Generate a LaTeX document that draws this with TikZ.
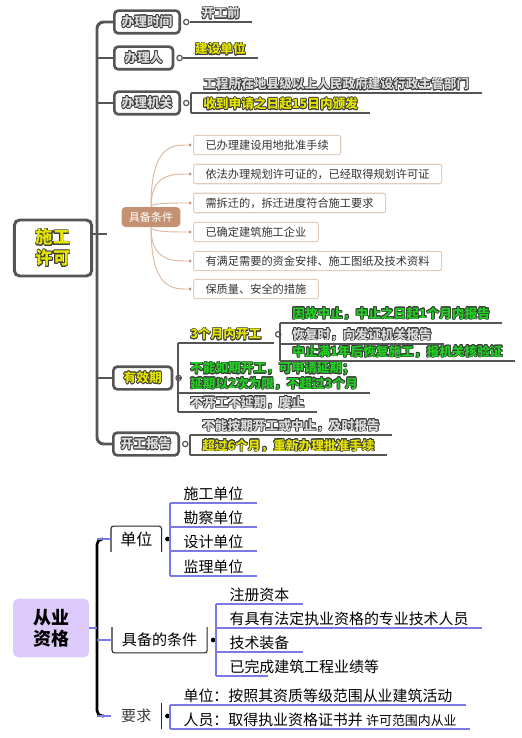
\documentclass[tikz,border=0pt]{standalone}
\usepackage{fontspec}
\setmainfont{Noto Sans CJK SC}
\usepackage[copies]{contour}
\usetikzlibrary{calc,positioning}
\definecolor{linegray}{HTML}{555555}
\definecolor{txtgray}{HTML}{DADADA}
\definecolor{rimgray}{HTML}{3A3A3A}
\definecolor{hiyellow}{HTML}{E4E400}
\definecolor{higreen}{HTML}{22D022}
\definecolor{brownbox}{HTML}{C49173}
\definecolor{brownline}{HTML}{DDB89F}
\definecolor{brownedge}{HTML}{E4CCBC}
\definecolor{lavender}{HTML}{DCCBFA}
\definecolor{bluline}{HTML}{7A7AE6}
\contourlength{0.5pt}
\newcommand{\og}[1]{\contour{rimgray}{#1}}

\begin{document}
\begin{tikzpicture}[x=0.75pt, y=-0.75pt,
  spine/.style={draw=linegray, line width=2.2pt, rounded corners=5pt},
  uline/.style={draw=linegray, line width=1.8pt},
  rootbox/.style={draw=linegray, line width=2.2pt, fill=white, rounded corners=4pt,
                  minimum width=58pt, minimum height=42pt, align=center,
                  font=\bfseries\fontsize{13}{15.5}\selectfont, text=hiyellow},
  topbox/.style={draw=linegray, line width=2pt, fill=white, rounded corners=3pt,
                 font=\bfseries\fontsize{9.5}{11}\selectfont, text=txtgray,
                 inner xsep=5.5pt, minimum height=17pt, minimum width=44pt, anchor=west},
  topdot/.style={circle, draw=linegray, fill=white, line width=0.9pt, inner sep=0pt, minimum size=4pt},
  leaf/.style={anchor=south west, font=\bfseries\fontsize{9.5}{11.5}\selectfont, text=txtgray,
               inner xsep=9pt, inner ysep=1.5pt, align=left},
  yleaf/.style={leaf, text=hiyellow},
  gleaf/.style={leaf, text=higreen},
  condbox/.style={fill=brownbox, text=white, rounded corners=3pt, font=\fontsize{8.3}{10}\selectfont,
                  minimum width=44pt, minimum height=15pt},
  condleaf/.style={draw=brownedge, line width=0.8pt, fill=white, rounded corners=1.5pt, anchor=west,
                   font=\fontsize{8.4}{10}\selectfont, text=black!80, inner xsep=9pt, minimum height=13.5pt},
  condline/.style={draw=brownline, line width=0.7pt},
  conddot/.style={circle, fill=brownbox, inner sep=0pt, minimum size=2.5pt},
  rootlav/.style={fill=lavender, rounded corners=4pt, font=\bfseries\fontsize{13.5}{16}\selectfont,
                  minimum width=57pt, minimum height=44pt, align=center},
  bspine/.style={draw=black, line width=2pt, rounded corners=4pt},
  bline/.style={draw=bluline, line width=0.9pt},
  midbox/.style={font=\fontsize{12}{14}\selectfont, inner xsep=6pt, minimum height=19pt, anchor=west},
  blkdot/.style={circle, fill=black, inner sep=0pt, minimum size=3.5pt},
  bleaf/.style={anchor=south west, font=\fontsize{11.2}{13}\selectfont, inner xsep=10pt, inner ysep=1.5pt}
]
\fill[white] (0,0) rectangle (521,738);
\useasboundingbox (0,0) rectangle (521,738);

% 施工许可
\node[rootbox] (sgxk) at (53,248) {\og{施工}\\\og{许可}};
\node[topbox] (blsj) at (113,22) {\og{办理时间}};
\node[topbox] (blr) at (113,58) {\og{办理人}};
\node[topbox] (bljg) at (113,103) {\og{办理机关}};
\node[condbox] (jbtj) at (151,217) {具备条件};
\node[topbox, text=hiyellow] (yxq) at (112,378) {\og{有效期}};
\node[topbox] (kgbg) at (112,444) {\og{开工报告}};

\coordinate (sp) at (97,444);
\coordinate (tick) at (107,234);
\draw[spine] (blsj.west) -| (sp) -- (kgbg.west);
\foreach \n in {blr,bljg,yxq} \draw[spine] (\n.west) -- (\n.west -| sp);
\draw[spine] (sgxk.east |- tick) -- (tick);

\foreach \n in {blsj,blr,bljg,yxq,kgbg} \node[topdot, right=1.5pt of \n] (\n-d) {};

% 办理时间 / 办理人 / 办理机关
\node[leaf] (kgq) at (blsj-d.east) {\og{开工前}};
\node[yleaf] (jsdw) at (blr-d.east) {\og{建设单位}};
\node[leaf] (zgbm) at (191,93) {\og{工程所在地县级以上人民政府建设行政主管部门}};
\node[yleaf] (sdsq) at (191,113) {\og{收到申请之日起15日内颁发}};
\draw[uline] (bljg-d.east) -- (bljg-d.east -| zgbm.south west);
\draw[uline] (zgbm.south west) -- (sdsq.south west);
\foreach \n in {kgq,jsdw,zgbm,sdsq} \draw[uline] (\n.south west) -- (\n.south east);

% 具备条件
\foreach \i/\y/\t in {1/145/{已办理建设用地批准手续},
                      2/174/{依法办理规划许可证的，已经取得规划许可证},
                      3/203/{需拆迁的，拆迁进度符合施工要求},
                      4/232/{已确定建筑施工企业},
                      5/261/{有满足需要的资金安排、施工图纸及技术资料},
                      6/289/{保质量、安全的措施}} {
  \node[condleaf] (tj\i) at (193,\y) {\t};
  \node[conddot] (tjd\i) at (190,\y) {};
}
\foreach \i in {1,2,3}
  \draw[condline] (jbtj.north) .. controls (jbtj.north |- tjd\i) and ($(tjd\i)+(-18,0)$) .. (tjd\i);
\foreach \i in {4,5,6}
  \draw[condline] (jbtj.south) .. controls (jbtj.south |- tjd\i) and ($(tjd\i)+(-18,0)$) .. (tjd\i);

% 有效期
\node[yleaf] (sgy) at (178,343) {\og{3个月内开工}};
\node[gleaf] (ksq) at (178,393) {\og{不能如期开工，可申请延期；}\\\og{延期以2次为限，不超过3个月}};
\node[leaf] (fz) at (178,412) {\og{不开工不延期，废止}};
\draw[uline] (yxq-d.east) -- (yxq-d.east -| sgy.south west);
\draw[uline] (sgy.south west) -- (fz.south west);
\foreach \n in {sgy,ksq,fz} \draw[uline] (\n.south west) -- (\n.south east);
\node[topdot, right=1pt of sgy] (sgy-d) {};
\node[gleaf] (zz1) at (280,323) {\og{因故中止，中止之日起1个月内报告}};
\node[leaf] (hfs) at (280,344) {\og{恢复时，向发证机关报告}};
\node[gleaf] (zz2) at (280,361) {\og{中止满1年后恢复施工，报机关核验证}};
\draw[uline] (sgy-d.east) -- (sgy-d.east -| zz1.south west);
\draw[uline] (zz1.south west) -- (zz2.south west);
\foreach \n in {zz1,hfs,zz2} \draw[uline] (\n.south west) -- (\n.south east);

% 开工报告
\node[leaf] (jsbg) at (190,435) {\og{不能按期开工或中止，及时报告}};
\node[yleaf] (cgly) at (190,455) {\og{超过6个月，重新办理批准手续}};
\draw[uline] (kgbg-d.east) -- (kgbg-d.east -| jsbg.south west);
\draw[uline] (jsbg.south west) -- (cgly.south west);
\foreach \n in {jsbg,cgly} \draw[uline] (\n.south west) -- (\n.south east);

% 从业资格
\node[rootlav] (cyzg) at (51,628) {从业\\资格};
\coordinate (bt) at (97,539);
\coordinate (bb) at (97,716);
\node[midbox, minimum width=37.5pt] (dw) at (111,539) {单位};
\node[midbox, font=\fontsize{11.3}{13}\selectfont, minimum width=71pt] (jbdtj) at (112,640) {具备的条件};
\node[midbox, font=\fontsize{11.3}{13}\selectfont, minimum width=37.5pt, text=black!75] (yqiu) at (111,716) {要求};
\draw[black!85, line width=0.8pt, rounded corners=2pt] (dw.south west) |- (dw.north east) -- (dw.south east);
\draw[black!85, line width=0.8pt, rounded corners=2pt] (jbdtj.north west) |- (jbdtj.south east) -- (jbdtj.north east);
\draw[black!85, line width=1.2pt] (yqiu.north east) -- (yqiu.south east);

\draw[bspine] ($(bt)+(6,0)$) -| (bb) -- ($(bb)+(7,0)$);
\draw[bline] (bt) -- (dw.west);
\draw[bline] (bt |- jbdtj.west) -- (jbdtj.west);
\draw[bline] (bb) -- (yqiu.west);
\draw[bline, line width=1.5pt] (cyzg.east) -- (cyzg.east -| bt);

\foreach \n in {dw,jbdtj,yqiu} \node[blkdot, right=2.5pt of \n] (\n-d) {};

\foreach \i/\y/\t in {1/503/施工单位, 2/527/勘察单位, 3/551/设计单位, 4/576/监理单位}
  \node[bleaf] (dw\i) at (170,\y) {\t};
\draw[bline] (dw-d) -- (dw-d -| dw1.south west);
\draw[bline] (dw1.south west) -- (dw4.south west);
\foreach \i in {1,...,4} \draw[bline] (dw\i.south west) -- (dw\i.south east);

\foreach \i/\y/\t in {1/604/注册资本, 2/628/有具有法定执业资格的专业技术人员, 3/652/技术装备, 4/676/已完成建筑工程业绩等}
  \node[bleaf] (tk\i) at (216,\y) {\t};
\draw[bline] (jbdtj-d) -- (jbdtj-d -| tk1.south west);
\draw[bline] (tk1.south west) -- (tk4.south west);
\foreach \i in {1,2,3} \draw[bline] (tk\i.south west) -- (tk\i.south east);
\draw[bline] (tk4.south west) -- ($(tk4.south west)+(52,0)$);

\node[bleaf] (yq1) at (170,705) {单位：按照其资质等级范围从业建筑活动};
\node[bleaf] (yq2) at (170,729) {人员：取得执业资格证书并 {\fontsize{9.7}{12}\selectfont 许可范围内从业}};
\draw[bline] (yqiu-d) -- (yqiu-d -| yq1.south west);
\draw[bline] (yq1.south west) -- (yq2.south west);
\foreach \n in {yq1,yq2} \draw[bline] (\n.south west) -- (\n.south east);
\end{tikzpicture}
\end{document}
